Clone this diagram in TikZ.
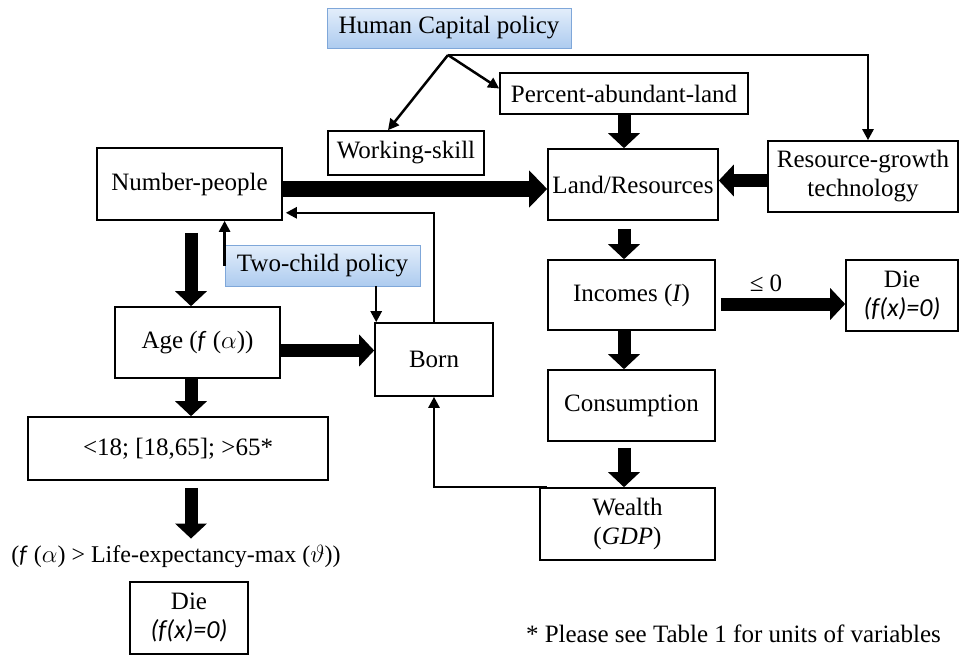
\documentclass[tikz,border=0pt]{standalone}
\usepackage{fontspec}
\setmainfont{Liberation Serif}
\setsansfont{Carlito}
\usetikzlibrary{arrows.meta,calc}
\definecolor{polb}{HTML}{7FA7D9}
\definecolor{poltop}{HTML}{E3EEFB}
\definecolor{polbot}{HTML}{ADCBEF}
\begin{document}
\begin{tikzpicture}[x=1pt,y=-1pt,font=\fontsize{25}{29}\selectfont]
\tikzset{
 box/.style={draw=black, line width=1.6pt, fill=white, align=center, inner sep=0pt},
 pol/.style={draw=polb, line width=0.8pt, top color=poltop, bottom color=polbot, align=center, inner sep=0pt},
 big/.style={line width=13pt, -{Triangle[width=31pt,length=15pt]}},
 bigger/.style={line width=16pt, -{Triangle[width=36pt,length=18pt]}},
 conn/.style={line width=2.5pt, -{Triangle[width=11pt,length=11pt]}},
 fx/.style={font=\fontsize{26}{29}\sffamily\itshape}
}
\useasboundingbox (0,0) rectangle (961,656);
% nodes
\node[pol, minimum width=244pt, minimum height=40pt] (hcp) at (449,28) {Human Capital policy};
\node[box, minimum width=248pt, minimum height=41pt] (pal) at (624,93.5) {Percent-abundant-land};
\node[box, minimum width=156pt, minimum height=44pt] (ws) at (406,153) {Working-skill};
\node[box, minimum width=170pt, minimum height=71pt] (land) at (633,184.5) {Land/Resources};
\node[box, minimum width=190pt, minimum height=71pt] (rgt) at (863,176.5) {Resource-growth\\technology};
\node[box, minimum width=185pt, minimum height=72pt] (np) at (189.5,184) {Number-people};
\node[box, minimum width=165pt, minimum height=71pt] (age) at (197.5,342.5) {Age (\textit{\sffamily f} (\textit{$\alpha$}))};
\node[box, minimum width=118pt, minimum height=73pt] (born) at (434,359.5) {Born};
\node[box, minimum width=167pt, minimum height=70pt] (inc) at (631.5,295) {Incomes (\textit{I})};
\node[box, minimum width=112pt, minimum height=71pt] (die1) at (902,295.5) {Die\\{\fontsize{26}{29}\sffamily\itshape (f(x)=0)}};
\node[box, minimum width=167pt, minimum height=71pt] (cons) at (631.5,405.5) {Consumption};
\node[box, minimum width=175pt, minimum height=72pt] (wealth) at (627.5,524) {Wealth\\(\textit{GDP})};
\node[box, minimum width=300pt, minimum height=63pt] (ages) at (178,448.5) {<18; [18,65]; >65*};
\node[inner sep=0pt, font=\fontsize{24}{28}\selectfont] (lbl) at (176,556) {(\textit{\sffamily f} (\textit{$\alpha$}) > Life-expectancy-max ($\vartheta$))};
\node[box, minimum width=118pt, minimum height=72pt] (die2) at (189,618) {Die\\{\fontsize{26}{29}\sffamily\itshape (f(x)=0)}};
\node[pol, minimum width=195pt, minimum height=41pt] (tcp) at (322.5,265.5) {Two-child policy};
\node[anchor=east, inner sep=0pt] (foot) at (941,634) {* Please see Table 1 for units of variables};
% human capital policy links
\coordinate (hub) at (448,55);
\coordinate (hr) at (868,55);
\draw[conn] (hub) -- (hr) -- (hr |- rgt.north);
\draw[conn] (hub) -- ([yshift=5pt]pal.west);
\draw[conn] (hub) -- ([xshift=-18pt]ws.north);
% thick flows
\coordinate (ax) at (624,0);
\coordinate (bx) at (191,0);
\draw[big] (pal.south -| ax) -- (land.north -| ax);
\draw[big] ([yshift=-4pt]rgt.west) -- ([yshift=-4pt]rgt.west -| land.east);
\draw[bigger] ([yshift=-5pt]np.east) -- ([yshift=-5pt]np.east -| land.west);
\draw[big] ([yshift=-8pt]land.south -| ax) -- (inc.north -| ax);
\draw[big] (inc.south -| ax) -- (cons.north -| ax);
\draw[big] ([yshift=-6pt]cons.south -| ax) -- (wealth.north -| ax);
\draw[big] ([xshift=5pt,yshift=-9pt]inc.east) -- ([yshift=-9pt]inc.east -| die1.west);
\node[inner sep=0pt] (le) at (766,283) {≤ 0};
\draw[big] ([yshift=-12pt]np.south -| bx) -- (age.north -| bx);
\draw[big] (age.south -| bx) -- (ages.north -| bx);
\draw[big] ([yshift=-7pt]ages.south -| bx) -- ([yshift=6pt]lbl.north -| bx);
\draw[big] ([yshift=-8pt]age.east) -- ([yshift=-8pt]age.east -| born.west);
% thin feedback links
\draw[conn] (born.north) |- ([xshift=3pt,yshift=8pt]np.south east);
\draw[conn] (tcp.west) -- (tcp.west |- np.south);
\draw[conn] ([xshift=2pt]tcp.south -| born.north west) -- ([xshift=2pt]born.north west);
\draw[conn] ([xshift=8pt]wealth.north west) -| (born.south);
\end{tikzpicture}
\end{document}
